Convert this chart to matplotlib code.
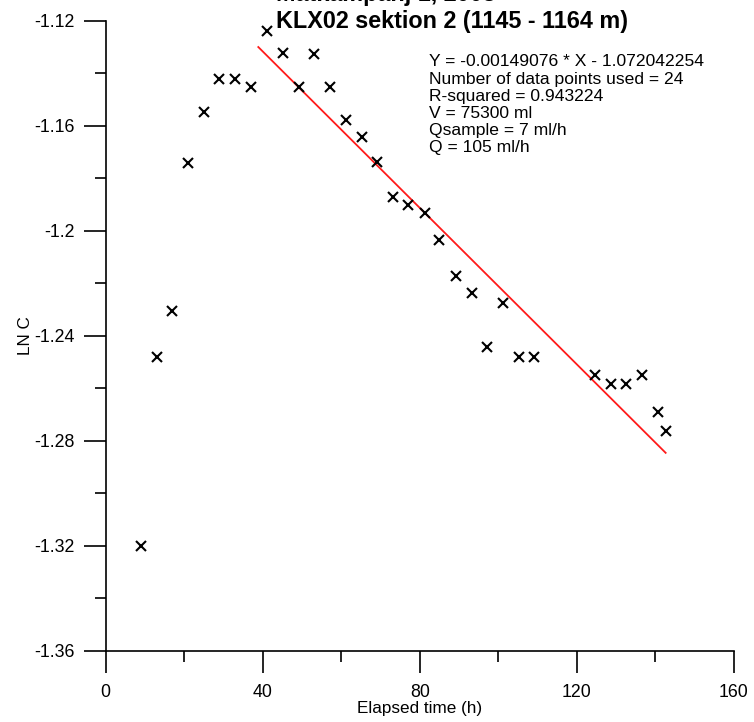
import matplotlib
matplotlib.use("Agg")
import matplotlib.pyplot as plt
from matplotlib.ticker import FixedLocator, MultipleLocator

plt.rcParams['font.family'] = ['Liberation Sans', 'DejaVu Sans']

# Measured tracer concentration (natural log) versus elapsed time
elapsed_h = [9.0, 13.0, 17.0, 21.1, 25.1, 29.0, 33.0, 37.0, 41.2, 45.1,
             49.2, 53.1, 57.1, 61.2, 65.2, 69.0, 73.1, 77.0, 81.3, 84.9,
             89.2, 93.2, 97.0, 101.1, 105.3, 109.1, 124.6, 128.6, 132.4,
             136.5, 140.7, 142.8]
ln_c = [-1.3201, -1.2480, -1.2306, -1.1741, -1.1549, -1.1422, -1.1422,
        -1.1454, -1.1238, -1.1324, -1.1454, -1.1327, -1.1454, -1.1578,
        -1.1642, -1.1740, -1.1870, -1.1902, -1.1934, -1.2035, -1.2171,
        -1.2238, -1.2444, -1.2274, -1.2480, -1.2480, -1.2549, -1.2584,
        -1.2584, -1.2549, -1.2691, -1.2764]

# Linear fit reported in the annotation
slope = -0.00149076
intercept = -1.072042254
fit_range = [38.9, 142.6]

annotation_lines = [
    "Y = -0.00149076 * X - 1.072042254",
    "Number of data points used = 24",
    "R-squared = 0.943224",
    "V = 75300 ml",
    "Qsample = 7 ml/h",
    "Q = 105 ml/h",
]
title_lines = ["Mätkampanj 1, 2003", "KLX02 sektion 2 (1145 - 1164 m)"]

x_ticks = [0, 40, 80, 120, 160]
x_tick_labels = ["0", "40", "80", "120", "160"]
y_ticks = [-1.36, -1.32, -1.28, -1.24, -1.2, -1.16, -1.12]
y_tick_labels = ["-1.36", "-1.32", "-1.28", "-1.24", "-1.2", "-1.16", "-1.12"]

W, H = 754, 722
fig = plt.figure(figsize=(W / 100, H / 100), dpi=100)
ax = fig.add_axes([105.5 / W, (H - 650.7) / H, (734 - 105.5) / W, (650.7 - 20.7) / H])

ax.plot(elapsed_h, ln_c, linestyle='none', marker='x', color='black',
        markersize=7.5, markeredgewidth=1.5, clip_on=False, zorder=3)

fit_y = [slope * x + intercept for x in fit_range]
ax.plot(fit_range, fit_y, color='#ff1a1a', linewidth=1.3, zorder=2)

ax.set_xlim(0, 160)
ax.set_ylim(-1.36, -1.12)

ax.xaxis.set_major_locator(FixedLocator(x_ticks))
ax.set_xticklabels(x_tick_labels)
ax.xaxis.set_minor_locator(MultipleLocator(20))
ax.yaxis.set_major_locator(FixedLocator(y_ticks))
ax.set_yticklabels(y_tick_labels)
ax.yaxis.set_minor_locator(MultipleLocator(0.02))

for side in ('top', 'right'):
    ax.spines[side].set_visible(False)
for side in ('left', 'bottom'):
    ax.spines[side].set_linewidth(1.2)

ax.tick_params(axis='both', which='major', direction='out', length=15.8,
               width=1.2, labelsize=12.8, color='black')
ax.tick_params(axis='both', which='minor', direction='out', length=8,
               width=1.2, color='black')
ax.tick_params(axis='x', which='major', pad=8.5)
ax.tick_params(axis='y', which='major', pad=6.5)

ax.set_xlabel("Elapsed time (h)", fontsize=12.3, va='center')
ax.xaxis.set_label_coords(0.5, (650.7 - 709) / 630)
ax.set_ylabel("LN C", fontsize=12.3, va='center')
ax.yaxis.set_label_coords((25 - 105.5) / 628.5, 0.5)

# Two-line title, left aligned, top line partly above the canvas
fig.text(276 / W, (H - 0.5) / H, title_lines[0], ha='left', va='baseline',
         fontsize=16.8, fontweight='bold')
fig.text(276 / W, (H - 28.3) / H, title_lines[1], ha='left', va='baseline',
         fontsize=16.8, fontweight='bold')

# Regression summary block
base = 66.5
step = 17.1
for i, line in enumerate(annotation_lines):
    fig.text(429 / W, (H - (base + i * step)) / H, line, ha='left',
             va='baseline', fontsize=12.6)

fig.savefig("out.png", dpi=100)
